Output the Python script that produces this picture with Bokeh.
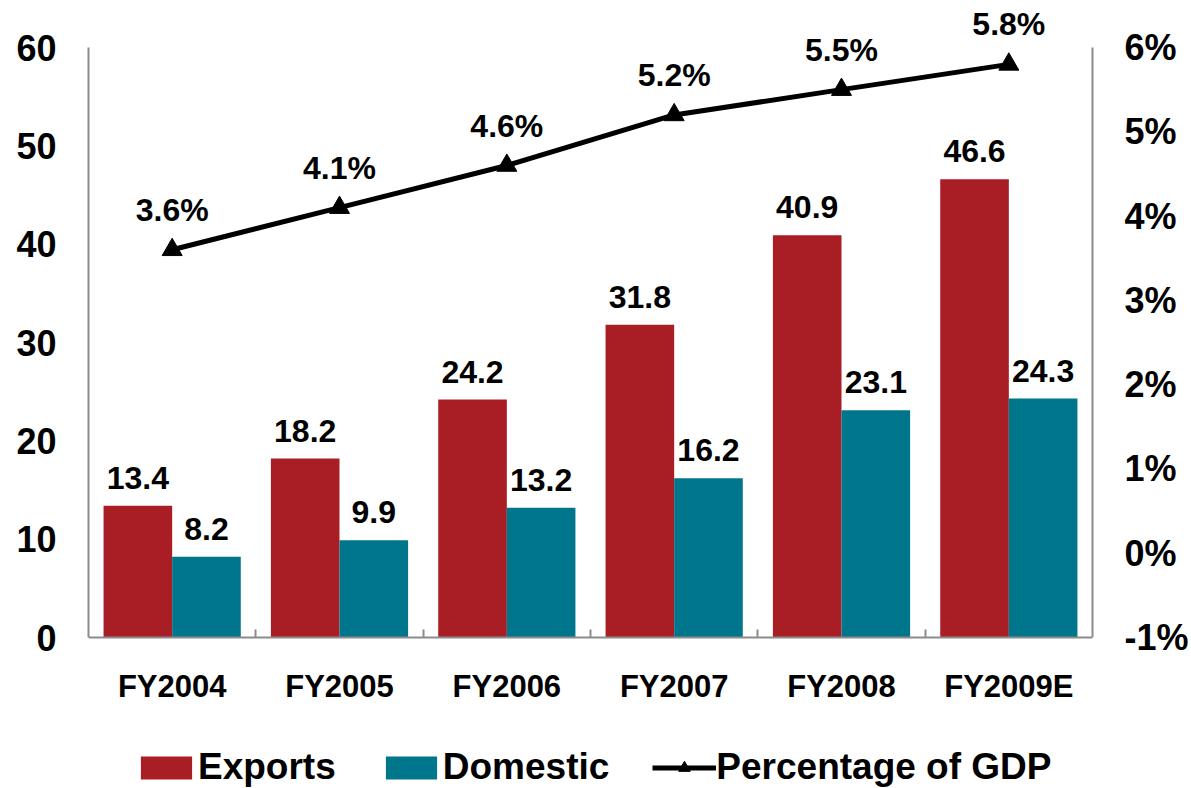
from bokeh.plotting import figure
from bokeh.models import (ColumnDataSource, Range1d, LinearAxis, FixedTicker,
                          CustomJSTickFormatter, NumeralTickFormatter, Legend, LegendItem)
from bokeh.core.properties import value
from bokeh.embed import file_html
from bokeh.resources import INLINE

# Fiscal years and series values
categories = ["FY2004", "FY2005", "FY2006", "FY2007", "FY2008", "FY2009E"]
exports = [13.4, 18.2, 24.2, 31.8, 40.9, 46.6]
domestic = [8.2, 9.9, 13.2, 16.2, 23.1, 24.3]
gdp_share = [3.6, 4.1, 4.6, 5.2, 5.5, 5.8]  # percent of GDP

left_ticks = [0, 10, 20, 30, 40, 50, 60]
right_ticks = [-1, 0, 1, 2, 3, 4, 5, 6]  # percent

RED = "#A81E24"
TEAL = "#00768C"
AXIS_GREY = "#8C8C8C"
FONT = "Liberation Sans"

# The drawing area fills the whole height so that the value labels above the
# top tick and the legend underneath stay visible; axis lines stop at the ticks.
W, H = 1191, 788
AXIS_TOP, AXIS_BOTTOM = 47, 637      # pixel rows of the top and bottom ticks
span = AXIS_BOTTOM - AXIS_TOP


def padded(lo, hi):
    per_px = (hi - lo) / span
    return Range1d(lo - (H - AXIS_BOTTOM) * per_px, hi + AXIS_TOP * per_px)


BAR_W = 0.41
centers = [i + 0.5 for i in range(len(categories))]

src = ColumnDataSource(dict(
    center=centers,
    x_exp=[c - BAR_W / 2 for c in centers],
    x_dom=[c + BAR_W / 2 for c in centers],
    exports=exports,
    domestic=domestic,
    gdp=[g / 100 for g in gdp_share],
    exp_lbl=[f"{v:.1f}" for v in exports],
    dom_lbl=[f"{v:.1f}" for v in domestic],
    gdp_lbl=[f"{g:.1f}%" for g in gdp_share],
))

y_lo, y_hi = left_ticks[0], left_ticks[-1]
r_lo, r_hi = right_ticks[0] / 100, right_ticks[-1] / 100

p = figure(width=W, height=H, output_backend="svg", toolbar_location=None,
           x_range=Range1d(0, len(categories)), y_range=padded(y_lo, y_hi),
           min_border_left=88, min_border_right=98, min_border_top=0,
           min_border_bottom=0)
p.extra_y_ranges = {"pct": padded(r_lo, r_hi)}
p.outline_line_color = None
p.grid.visible = False
p.background_fill_color = "white"
p.border_fill_color = "white"

# bottom axis sits on zero: category names at centres, inward ticks at boundaries
xa = p.xaxis[0]
xa.fixed_location = 0
xa.ticker = FixedTicker(ticks=centers, minor_ticks=list(range(1, len(categories))))
xa.formatter = CustomJSTickFormatter(args=dict(labels=categories),
                                     code="return labels[Math.floor(tick)] || '';")
xa.major_tick_in = 0
xa.major_tick_out = 0
xa.minor_tick_in = 8
xa.minor_tick_out = 0
xa.minor_tick_line_color = AXIS_GREY
xa.minor_tick_line_width = 2
xa.axis_line_color = AXIS_GREY
xa.axis_line_width = 2
xa.major_label_standoff = 31
xa.major_label_text_font = FONT
xa.major_label_text_font_style = "bold"
xa.major_label_text_font_size = "31px"
xa.major_label_text_color = "black"

# left axis
ya = p.yaxis[0]
ya.ticker = FixedTicker(ticks=left_ticks)
ya.bounds = (y_lo, y_hi)
ya.major_tick_in = 0
ya.major_tick_out = 0
ya.minor_tick_line_color = None
ya.axis_line_color = AXIS_GREY
ya.axis_line_width = 2
ya.major_label_standoff = 32
ya.major_label_text_font = FONT
ya.major_label_text_font_style = "bold"
ya.major_label_text_font_size = "36px"
ya.major_label_text_color = "black"

# right axis for share of GDP
ra = LinearAxis(y_range_name="pct",
                ticker=FixedTicker(ticks=[t / 100 for t in right_ticks]),
                formatter=NumeralTickFormatter(format="0%"),
                bounds=(r_lo, r_hi))
ra.major_tick_in = 0
ra.major_tick_out = 0
ra.minor_tick_line_color = None
ra.axis_line_color = AXIS_GREY
ra.axis_line_width = 2
ra.major_label_standoff = 32
ra.major_label_text_font = FONT
ra.major_label_text_font_style = "bold"
ra.major_label_text_font_size = "36px"
ra.major_label_text_color = "black"
p.add_layout(ra, "right")

r_exp = p.vbar(x="x_exp", top="exports", bottom=0, width=BAR_W, source=src,
               fill_color=RED, line_color=None)
r_dom = p.vbar(x="x_dom", top="domestic", bottom=0, width=BAR_W, source=src,
               fill_color=TEAL, line_color=None)

r_line = p.line(x="center", y="gdp", source=src, y_range_name="pct",
                line_color="black", line_width=5)
r_tri = p.scatter(x="center", y="gdp", source=src, y_range_name="pct",
                  marker="triangle", size=20, fill_color="black", line_color="black")

label_style = dict(text_align="center", text_baseline="bottom",
                   text_font=value(FONT), text_font_style="bold",
                   text_font_size="32px", text_color="black")
p.text(x="x_exp", y="exports", text="exp_lbl", source=src, y_offset=-17, **label_style)
p.text(x="x_dom", y="domestic", text="dom_lbl", source=src, y_offset=-17, **label_style)
p.text(x="center", y="gdp", text="gdp_lbl", source=src, y_range_name="pct",
       y_offset=-22, **label_style)

legend = Legend(items=[
    LegendItem(label="Exports", renderers=[r_exp]),
    LegendItem(label="Domestic", renderers=[r_dom]),
    LegendItem(label="Percentage of GDP", renderers=[r_line, r_tri]),
], orientation="horizontal", location=(46, 0))
legend.label_text_font = FONT
legend.label_text_font_style = "bold"
legend.label_text_font_size = "37px"
legend.label_text_color = "black"
legend.glyph_width = 64
legend.glyph_height = 29
legend.label_standoff = 0
legend.spacing = 43
legend.padding = 0
legend.margin = 0
legend.border_line_color = None
legend.background_fill_alpha = 0
p.add_layout(legend, "center")

open("out.html", "w").write(file_html(p, INLINE))
